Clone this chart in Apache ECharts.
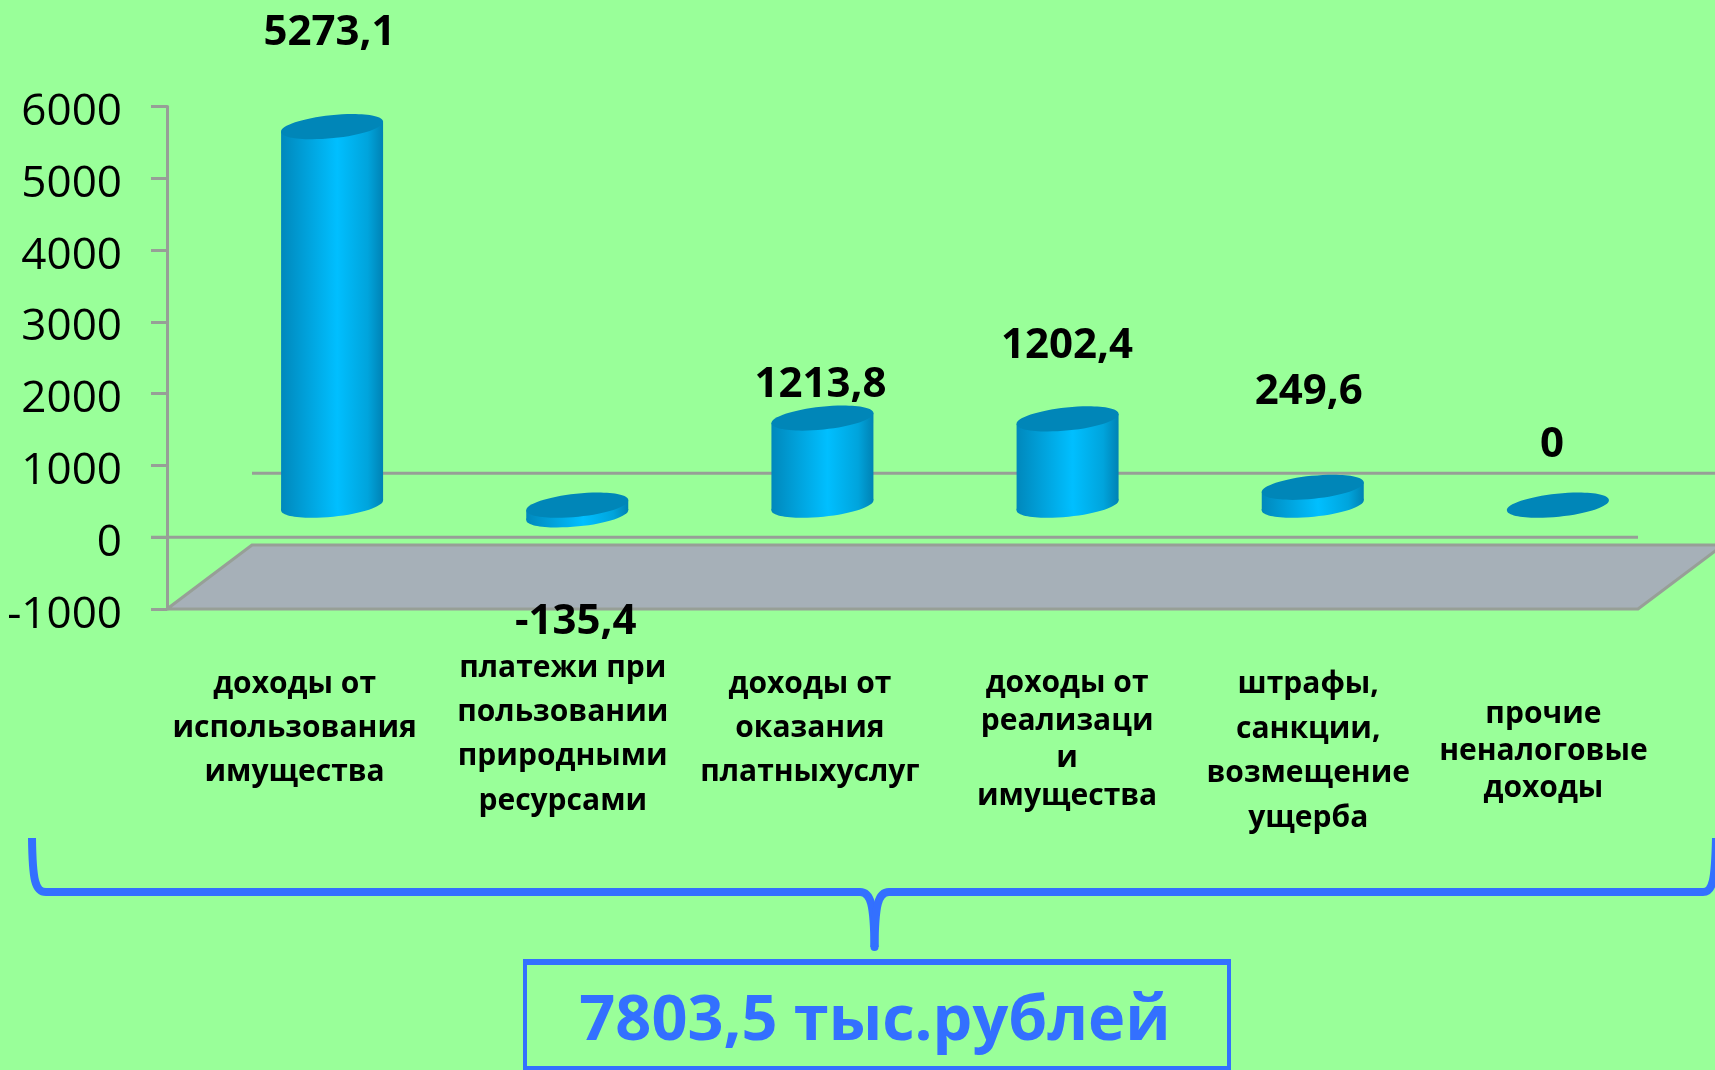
<!DOCTYPE html>
<html>
<head>
<meta charset="utf-8">
<title>ECharts</title>
<script src="https://cdn.jsdelivr.net/npm/echarts@6/dist/echarts.min.js"></script>
<style>
html, body { margin: 0; padding: 0; background: #99ff99; }
#main { width: 1715px; height: 1070px; }
</style>
</head>
<body>
<div id="main"></div>
<script type="text/javascript">
// data
var categories = [
    'доходы от\nиспользования\nимущества',
    'платежи при\nпользовании\nприродными\nресурсами',
    'доходы от\nоказания\nплатныхуслуг',
    'доходы от\nреализаци\nи\nимущества',
    'штрафы,\nсанкции,\nвозмещение\nущерба',
    'прочие\nненалоговые\nдоходы'
];
var values = [5273.1, -135.4, 1213.8, 1202.4, 249.6, 0];
var yTicks = { min: -1000, max: 6000, step: 1000 };
var totalText = '7803,5 тыс.рублей';

// hand placement of the labels, as in the original slide
var valueLabelDx = [-2.5, -1.5, -2, -0.5, -4, -6];
var valueLabelLift = [94, -117, 33, 73, 95, 60];
var catLabelDx = [5, 28, 30, 42, 38, 28];
var catLabelTop = [53, 37, 53, 56, 53, 87];
var catLabelLine = [44, 44.3, 44, 37.5, 44.7, 37];

// fake 3d
var depthX = 85, depthY = -64;
var tilt = 5.9 * Math.PI / 180;
var rx = 51.3, ry = 11.5;
var tangentY = 5;
var font = '"Open Sans", sans-serif';
var axisGray = '#979f97';
var braceBlue = '#3370ff';

function sideGradient() {
    return new echarts.graphic.LinearGradient(0, 0, 1, 0, [
        { offset: 0, color: '#0088bc' },
        { offset: 0.55, color: '#00bfff' },
        { offset: 0.85, color: '#00a4dc' },
        { offset: 1, color: '#0082b4' }
    ]);
}

function ellipse(cx, cy, fill, z) {
    return {
        type: 'ellipse',
        x: cx, y: cy, rotation: tilt,
        shape: { cx: 0, cy: 0, rx: rx, ry: ry },
        style: { fill: fill },
        z2: z
    };
}

function renderCylinder(params, api) {
    var i = api.value(0), v = api.value(1);
    var cx = api.coord([i, 0])[0] + depthX / 2;
    var zeroY = api.coord([i, 0])[1] + depthY / 2;
    var valY = api.coord([i, v])[1] + depthY / 2;
    var topY = Math.min(zeroY, valY), botY = Math.max(zeroY, valY);
    var kids = [];
    if (botY - topY > 0.5) {
        kids.push(ellipse(cx, botY, sideGradient(), 1));
        kids.push({
            type: 'polygon',
            shape: { points: [
                [cx - 51, topY + tangentY], [cx + 51, topY - tangentY],
                [cx + 51, botY - tangentY], [cx - 51, botY + tangentY]
            ] },
            style: { fill: sideGradient() },
            z2: 2
        });
    }
    kids.push(ellipse(cx, topY, '#0086b8', 3));
    kids.push({
        type: 'text',
        x: cx + valueLabelDx[i],
        y: topY - valueLabelLift[i],
        style: {
            text: String(v).replace('.', ','),
            fill: '#000',
            font: 'bold 42px ' + font,
            align: 'center',
            verticalAlign: 'middle'
        },
        z2: 4
    });
    return { type: 'group', children: kids };
}

function renderFloor(params, api) {
    var sys = params.coordSys;
    var left = sys.x, right = sys.x + sys.width;
    var y0 = api.coord([0, 0])[1];
    var yMin = api.coord([0, yTicks.min])[1];
    return {
        type: 'group',
        children: [
            {
                type: 'polygon',
                shape: { points: [
                    [left, yMin], [left + depthX, yMin + depthY],
                    [right + depthX, yMin + depthY], [right, yMin]
                ] },
                style: { fill: '#a6b0b8', stroke: axisGray, lineWidth: 3 }
            },
            {
                type: 'line',
                shape: { x1: left - 16, y1: y0, x2: right, y2: y0 },
                style: { stroke: axisGray, lineWidth: 3 }
            },
            {
                type: 'line',
                shape: { x1: left + depthX, y1: y0 + depthY, x2: right + depthX, y2: y0 + depthY },
                style: { stroke: axisGray, lineWidth: 3 }
            }
        ]
    };
}

function braceCurve(x1, y1, cpx1, cpy1, cpx2, cpy2, x2, y2) {
    return {
        type: 'bezierCurve',
        shape: { x1: x1, y1: y1, cpx1: cpx1, cpy1: cpy1, cpx2: cpx2, cpy2: cpy2, x2: x2, y2: y2 },
        style: { fill: 'none', stroke: braceBlue, lineWidth: 8 }
    };
}

function braceLine(x1, x2) {
    return {
        type: 'line',
        shape: { x1: x1, y1: 892, x2: x2, y2: 892 },
        style: { stroke: braceBlue, lineWidth: 8 }
    };
}

var myChart = echarts.init(document.getElementById('main'));
myChart.setOption({
    backgroundColor: '#99ff99',
    animation: false,
    grid: { left: 167, right: 77, top: 106.5, bottom: 461 },
    xAxis: {
        type: 'category',
        position: 'bottom',
        data: categories.map(function (name, i) {
            return {
                value: name,
                textStyle: {
                    lineHeight: catLabelLine[i],
                    padding: [catLabelTop[i], 0, 0, 2 * catLabelDx[i]]
                }
            };
        }),
        axisLine: { onZero: false, show: false },
        axisTick: { show: false },
        axisLabel: {
            interval: 0,
            margin: 0,
            color: '#000',
            fontFamily: font,
            fontWeight: 'bold',
            fontSize: 30
        }
    },
    yAxis: {
        type: 'value',
        min: yTicks.min,
        max: yTicks.max,
        interval: yTicks.step,
        splitLine: { show: false },
        axisLine: { show: true, lineStyle: { color: axisGray, width: 3 } },
        axisTick: { show: true, length: 16, lineStyle: { color: axisGray, width: 3 } },
        axisLabel: {
            margin: 45,
            color: '#000',
            fontFamily: font,
            fontSize: 44,
            verticalAlign: 'top',
            lineHeight: 12,
            formatter: function (v) { return String(v); }
        }
    },
    series: [
        { type: 'custom', renderItem: renderFloor, data: [[0, 0]], z: 1, silent: true, clip: false },
        {
            type: 'custom',
            renderItem: renderCylinder,
            data: values.map(function (v, i) { return [i, v]; }),
            encode: { x: 0, y: 1 },
            z: 2,
            clip: false
        }
    ],
    graphic: [
        braceCurve(32, 838, 32.5, 880, 35, 892, 46, 892),
        braceLine(46, 860),
        braceCurve(860, 892, 871, 892, 874, 905, 874.5, 947),
        braceCurve(889, 892, 878, 892, 875, 905, 874.5, 947),
        braceLine(889, 1703),
        braceCurve(1703, 892, 1713, 892, 1715, 880, 1716, 838),
        {
            type: 'circle',
            shape: { cx: 874.5, cy: 947, r: 4 },
            style: { fill: braceBlue }
        },
        {
            type: 'polygon',
            shape: { points: [[525, 962], [1229, 962], [1229, 1068], [525, 1068]] },
            style: { fill: 'none', stroke: braceBlue, lineWidth: 4 }
        },
        {
            type: 'rect',
            shape: { x: 523, y: 959, width: 708, height: 6 },
            style: { fill: braceBlue }
        },
        {
            type: 'text',
            x: 875, y: 1022,
            style: {
                text: totalText,
                fill: braceBlue,
                font: 'bold 63px ' + font,
                align: 'center',
                verticalAlign: 'middle'
            }
        }
    ]
});
</script>
</body>
</html>
